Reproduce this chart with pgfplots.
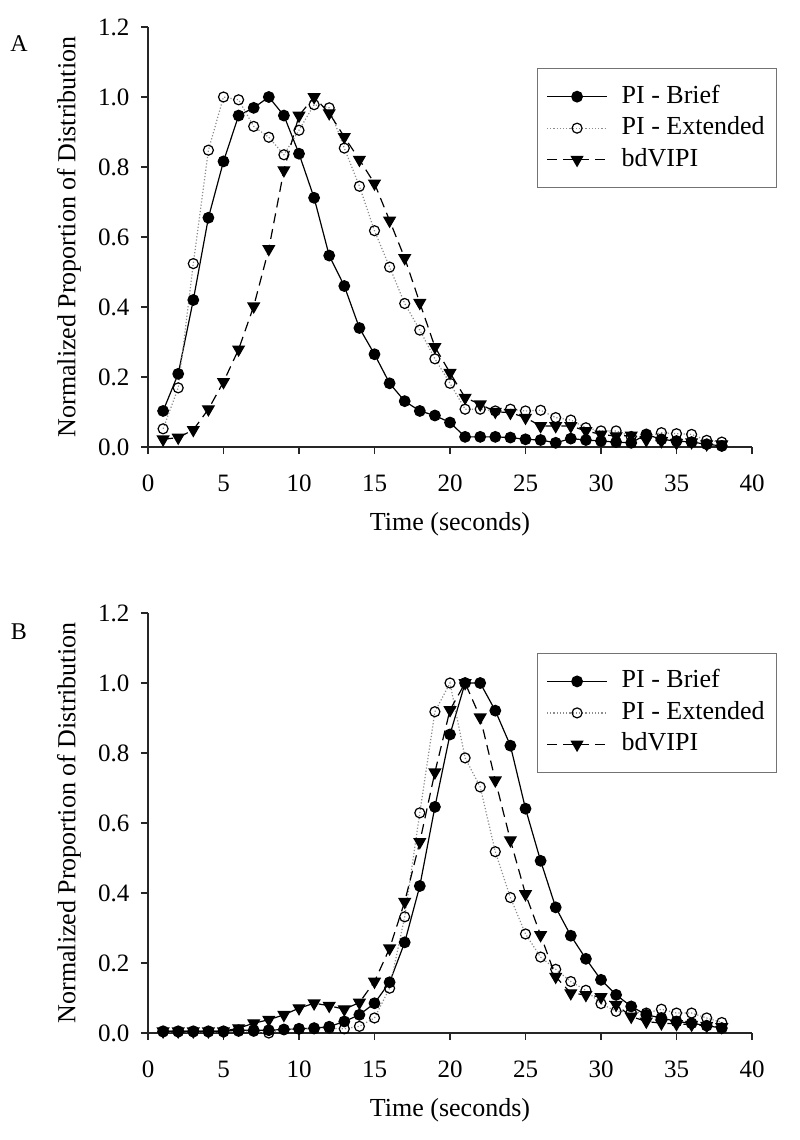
\documentclass[border=0pt]{standalone}
\usepackage{fontspec}
\setmainfont{Liberation Serif}
\usepackage{pgfplots}
\usepackage{pgfplotstable}
\pgfplotsset{compat=1.18}

\pgfplotstableread{
x brief ext bd
1 0.103 0.052 0.022
2 0.209 0.169 0.027
3 0.420 0.524 0.049
4 0.655 0.848 0.108
5 0.816 1.000 0.186
6 0.947 0.992 0.279
7 0.969 0.916 0.402
8 1.000 0.885 0.566
9 0.947 0.835 0.791
10 0.838 0.905 0.947
11 0.712 0.978 1.000
12 0.547 0.969 0.954
13 0.460 0.854 0.886
14 0.340 0.745 0.821
15 0.265 0.618 0.753
16 0.182 0.514 0.647
17 0.131 0.410 0.540
18 0.103 0.334 0.412
19 0.090 0.252 0.286
20 0.070 0.182 0.212
21 0.029 0.108 0.141
22 0.029 0.108 0.122
23 0.029 0.103 0.101
24 0.027 0.108 0.098
25 0.022 0.103 0.084
26 0.020 0.105 0.060
27 0.012 0.084 0.060
28 0.024 0.077 0.060
29 0.020 0.055 0.046
30 0.017 0.046 0.036
31 0.014 0.046 0.031
32 0.012 0.030 0.033
33 0.036 0.030 0.020
34 0.022 0.041 0.017
35 0.017 0.038 0.012
36 0.014 0.036 0.014
37 0.008 0.019 0.008
38 0.003 0.014 0.008
}\tableA

\pgfplotstableread{
x brief ext bd
1 0.005 0.003 0.005
2 0.005 0.003 0.005
3 0.005 0.003 0.005
4 0.005 0.003 0.005
5 0.005 0.003 0.005
6 0.008 0.005 0.014
7 0.008 0.005 0.028
8 0.008 0.000 0.038
9 0.010 0.010 0.052
10 0.012 0.012 0.071
11 0.014 0.012 0.085
12 0.018 0.014 0.078
13 0.033 0.012 0.068
14 0.052 0.019 0.087
15 0.085 0.043 0.147
16 0.145 0.128 0.242
17 0.259 0.332 0.375
18 0.420 0.629 0.546
19 0.646 0.918 0.745
20 0.853 1.000 0.923
21 1.000 0.786 1.000
22 1.000 0.703 0.902
23 0.921 0.518 0.722
24 0.821 0.387 0.551
25 0.641 0.283 0.397
26 0.492 0.217 0.280
27 0.359 0.182 0.161
28 0.278 0.147 0.114
29 0.212 0.122 0.109
30 0.152 0.084 0.103
31 0.109 0.062 0.081
32 0.076 0.060 0.047
33 0.052 0.057 0.033
34 0.043 0.068 0.028
35 0.033 0.057 0.026
36 0.028 0.057 0.024
37 0.021 0.043 0.021
38 0.014 0.030 0.017
}\tableB

\pgfplotsset{
  panel/.style={
    scale only axis, width=604pt, height=420pt,
    xmin=0, xmax=40, ymin=0, ymax=1.2,
    axis x line*=bottom, axis y line*=left,
    axis line style={-, line width=1.3pt, black!85},
    xtick={0,5,...,40}, ytick={0,0.2,0.4,0.6,0.8,1.0,1.2},
    tick align=outside, major tick length=7pt,
    tick style={line width=1.3pt, black!85},
    /pgf/number format/assume math mode=true,
    ticklabel style={font=\fontsize{25}{29}\selectfont},
    yticklabel style={/pgf/number format/.cd, fixed, fixed zerofill, precision=1, /tikz/.cd, xshift=-8pt},
    xticklabel style={yshift=-16pt, text height=18pt, text depth=0pt},
    label style={font=\fontsize{26}{30}\selectfont},
    xlabel={Time (seconds)},
    ylabel={Normalized Proportion of Distribution},
    xlabel style={at={(axis description cs:0.5,-0.183)}, anchor=center},
    ylabel style={at={(axis description cs:-0.1308,0.5)}, anchor=center},
    legend cell align=left,
    legend style={draw=black!55, line width=1pt, font=\fontsize{26}{30}\selectfont,
      anchor=north west, inner xsep=9pt, inner ysep=12.5pt, row sep=0.5pt,
      column sep=11pt, nodes={inner sep=3pt, text height=19pt, text depth=6pt}},
    legend image code/.code={\draw[mark repeat=2, mark phase=2, #1] plot coordinates {(0pt,0pt) (30pt,0pt) (60pt,0pt)};},
  },
  sBrief/.style={black, line width=1.2pt, mark=*, mark size=5.3pt, mark options={solid, fill=black}},
  sExt/.style={black!45, dotted, line width=1.2pt, mark=o, mark size=5pt, mark options={solid, draw=black, fill=white, line width=1.2pt}},
  sBd/.style={black, dashed, dash pattern=on 10pt off 6pt, line width=1.2pt, mark=triangle*, mark size=6.5pt, mark options={solid, rotate=180, fill=black}},
}

\begin{document}
\begin{tikzpicture}
\path[use as bounding box] (0,0) rectangle (800pt,-1140pt);
\node[font=\fontsize{24}{28}\selectfont] at (19pt,-44pt) {A};
\node[font=\fontsize{24}{28}\selectfont] at (19pt,-632pt) {B};

\begin{axis}[panel, at={(148pt,-447pt)}, anchor=south west,
  legend style={at={(0.644,0.902)}}]
\addplot[sBrief] table[x=x, y=brief] {\tableA};
\addlegendentry{PI - Brief}
\addplot[sExt] table[x=x, y=ext] {\tableA};
\addlegendentry{PI - Extended}
\addplot[sBd] table[x=x, y=bd] {\tableA};
\addlegendentry{bdVIPI}
\end{axis}

\begin{axis}[panel, at={(148pt,-1033pt)}, anchor=south west,
  legend style={at={(0.644,0.905)}}]
\addplot[sBrief] table[x=x, y=brief] {\tableB};
\addlegendentry{PI - Brief}
\addplot[sExt] table[x=x, y=ext] {\tableB};
\addlegendentry{PI - Extended}
\addplot[sBd] table[x=x, y=bd] {\tableB};
\addlegendentry{bdVIPI}
\end{axis}
\end{tikzpicture}
\end{document}
